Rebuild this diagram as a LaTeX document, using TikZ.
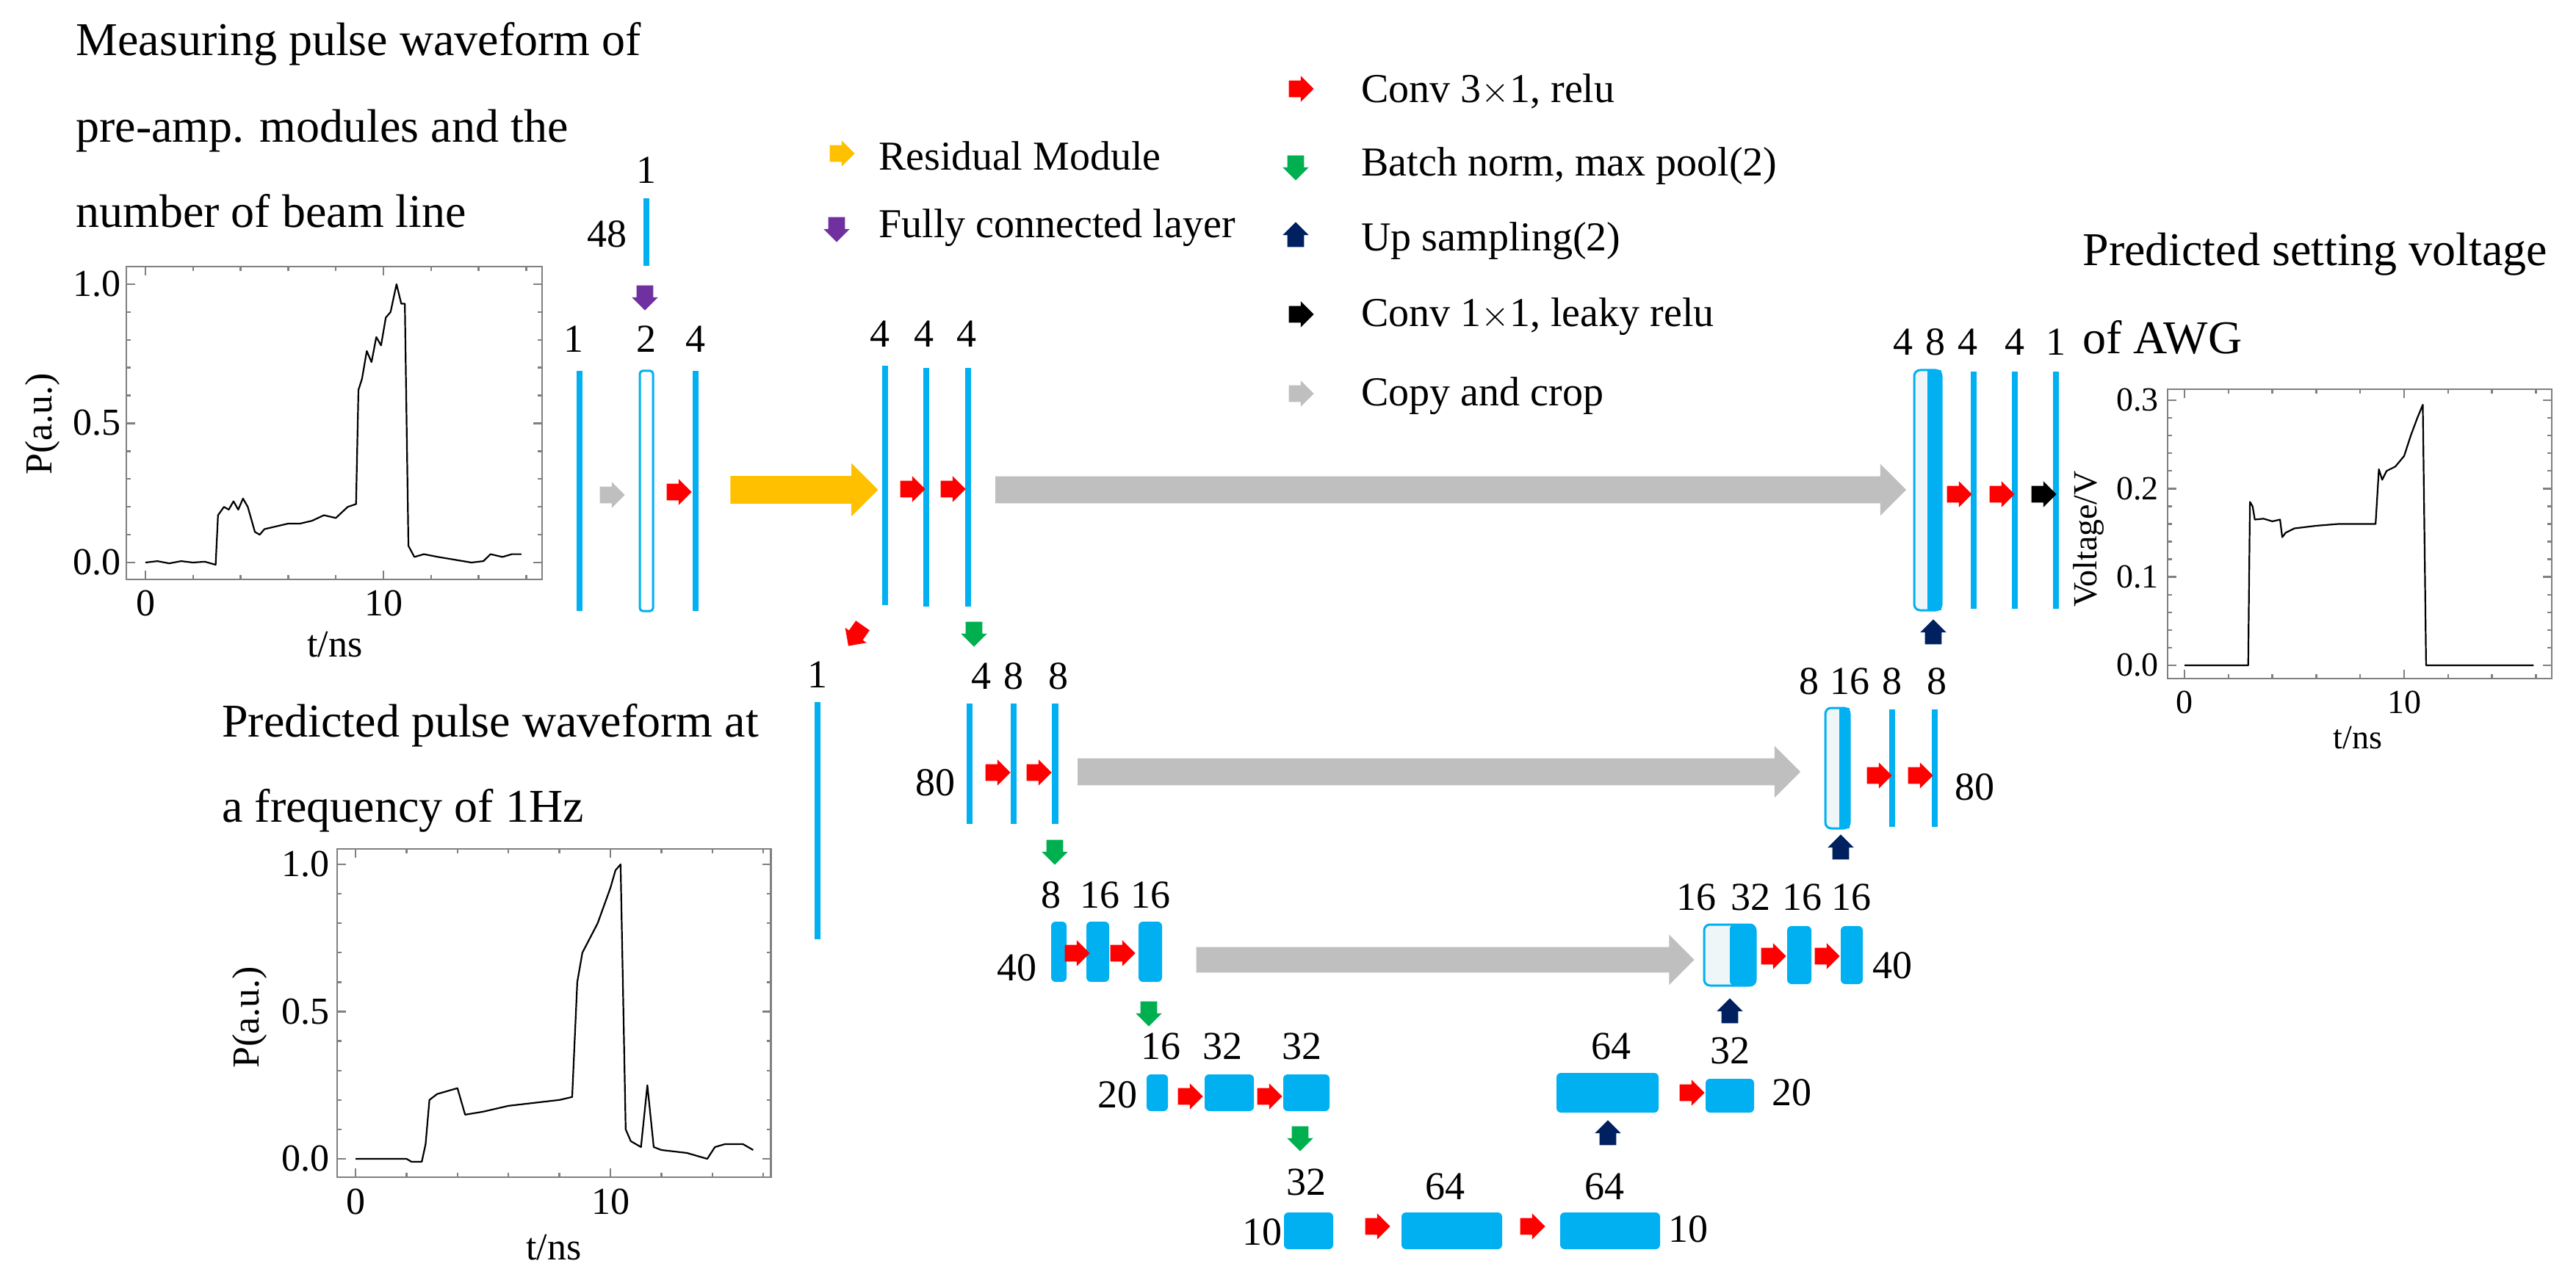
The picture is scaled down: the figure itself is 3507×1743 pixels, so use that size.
\documentclass[tikz,border=0pt]{standalone}
\usepackage{fontspec}
\setmainfont{Liberation Serif}
\usetikzlibrary{shapes.arrows}
\definecolor{cyb}{HTML}{00B0F0}
\definecolor{lfill}{HTML}{EEF6F8}
\definecolor{garr}{HTML}{BFBFBF}
\definecolor{yarr}{HTML}{FFC000}
\definecolor{parr}{HTML}{7030A0}
\definecolor{grarr}{HTML}{00B050}
\definecolor{narr}{HTML}{002060}
\definecolor{frm}{HTML}{808080}
\newcommand\lay[6]{\node[#1, minimum width={(#4-#3)*0.5pt}, minimum height={(#6-#5)*0.5pt}] (#2) at ({(#3+#4)/2},{(#5+#6)/2}) {};}
\tikzset{
  bar/.style={fill=cyb, draw=none, inner sep=0, outer sep=0},
  box/.style={fill=cyb, draw=none, inner sep=0, outer sep=0, rounded corners=3pt},
  hollow/.style={fill=white, draw=cyb, line width=1.5pt, inner sep=0, outer sep=0, rounded corners=2pt},
  hollowl/.style={fill=lfill, draw=cyb, line width=1.5pt, inner sep=0, outer sep=0, rounded corners=4pt},
  sarr/.style={single arrow, draw=none, inner xsep=0pt, inner ysep=5.5pt, outer sep=0, minimum height=17pt, single arrow head extend=3.2pt, single arrow head indent=0pt},
  ra/.style={sarr, fill=red},
  ka/.style={sarr, fill=black},
  ga/.style={sarr, fill=garr},
  ya/.style={sarr, fill=yarr},
  pa/.style={sarr, fill=parr, rotate=270},
  gda/.style={sarr, fill=grarr, rotate=270},
  nua/.style={sarr, fill=narr, rotate=90},
  big/.style={single arrow, draw=none, inner xsep=0pt, inner ysep=9pt, outer sep=0, single arrow head extend=8.5pt, single arrow head indent=0pt},
  num/.style={font=\fontsize{27}{30}\selectfont, inner sep=0},
  captxt/.style={font=\fontsize{32}{38}\selectfont, inner sep=0, anchor=base west},
  leg/.style={font=\fontsize{28}{32}\selectfont, inner sep=0, anchor=west},
  tk/.style={font=\fontsize{26}{30}\selectfont, inner sep=0},
  tks/.style={font=\fontsize{23}{26}\selectfont, inner sep=0},
  frame/.style={draw=frm, line width=1.2pt},
  curve/.style={black, line width=1.1pt, line join=round},
}
\begin{document}
\begin{tikzpicture}[x=0.5pt,y=-0.5pt]
\useasboundingbox (0,0) rectangle (3507,1743);
\fill[white] (0,0) rectangle (3507,1743);

% ---------- captions ----------
\node[captxt] (c1) at (103,76) {Measuring pulse waveform of};
\node[captxt] (c2) at (103,194) {pre-amp. modules and the};
\node[captxt] (c3) at (103,310) {number of beam line};
\node[captxt] (c4) at (302,1003) {Predicted pulse waveform at};
\node[captxt] (c5) at (302,1119) {a frequency of 1Hz};
\node[captxt] (c6) at (2835,362) {Predicted setting voltage};
\node[captxt] (c7) at (2835,482) {of AWG};

% ---------- legend ----------
\node[ya] (ly) at (1141,209) {}; \node[leg] (lyt) at (1196,212) {Residual Module};
\node[pa] (lp) at (1139,307) {}; \node[leg] (lpt) at (1196,310) {Fully connected layer};
\node[ra] (lr) at (1766,121) {}; \node[leg] (lrt) at (1853,124) {Conv 3$\times$1, relu};
\node[gda] (lg) at (1764,223) {}; \node[leg] (lgt) at (1853,226) {Batch norm, max pool(2)};
\node[nua] (ln) at (1764,325) {}; \node[leg] (lnt) at (1853,328) {Up sampling(2)};
\node[ka] (lk) at (1766,428) {}; \node[leg] (lkt) at (1853,431) {Conv 1$\times$1, leaky relu};
\node[ga] (lgr) at (1766,536) {}; \node[leg] (lgrt) at (1853,539) {Copy and crop};

% ---------- plot 1 ----------
\begin{scope}[shift={(198,766)}, x=16.2pt, y=189.5pt]
 \draw[frame] (-0.8,-0.061) rectangle (16.67,1.063);
 \foreach \t in {0,2,...,16} {\draw[frame] (\t,-0.061) -- ++(0,3pt); \draw[frame] (\t,1.063) -- ++(0,-3pt);}
 \foreach \t in {0,10} {\draw[frame] (\t,-0.061) -- ++(0,6pt); \draw[frame] (\t,1.063) -- ++(0,-6pt);}
 \foreach \p in {0,0.1,...,1.01} {\draw[frame] (-0.8,\p) -- ++(3pt,0); \draw[frame] (16.67,\p) -- ++(-3pt,0);}
 \foreach \p in {0,0.5,1} {\draw[frame] (-0.8,\p) -- ++(6pt,0); \draw[frame] (16.67,\p) -- ++(-6pt,0);}
 \draw[curve] plot coordinates {(0,0) (0.5,0.005) (1,-0.003) (1.5,0.005) (2,0) (2.5,0.003) (2.95,-0.008) (3.05,0.17) (3.3,0.2) (3.5,0.19) (3.7,0.22) (3.9,0.19) (4.1,0.23) (4.3,0.2) (4.6,0.11) (4.8,0.1) (5,0.12) (5.5,0.13) (6,0.14) (6.5,0.14) (7,0.15) (7.5,0.17) (8,0.16) (8.5,0.2) (8.85,0.21) (8.95,0.62) (9.1,0.66) (9.3,0.76) (9.5,0.72) (9.7,0.81) (9.9,0.78) (10.1,0.88) (10.3,0.9) (10.55,1.0) (10.75,0.93) (10.9,0.93) (11.05,0.06) (11.3,0.02) (11.7,0.03) (12.3,0.02) (13,0.01) (13.7,0.0) (14.2,0.005) (14.5,0.03) (15,0.02) (15.4,0.03) (15.8,0.03)};
\end{scope}
\node[tk,anchor=east] (p1y1) at (165,387) {1.0};
\node[tk,anchor=east] (p1y2) at (165,576) {0.5};
\node[tk,anchor=east] (p1y3) at (165,766) {0.0};
\node[tk] (p1x1) at (198,821) {0};
\node[tk] (p1x2) at (522,821) {10};
\node[tk] (p1xl) at (456,878) {t/ns};
\node[tk,rotate=90] (p1yl) at (58,577) {P(a.u.)};

% ---------- plot 2 ----------
\begin{scope}[shift={(484,1578)}, x=17.35pt, y=200.5pt]
 \draw[frame] (-0.72,-0.062) rectangle (16.3,1.052);
 \foreach \t in {0,2,...,16} {\draw[frame] (\t,-0.062) -- ++(0,3pt); \draw[frame] (\t,1.052) -- ++(0,-3pt);}
 \foreach \t in {0,10} {\draw[frame] (\t,-0.062) -- ++(0,6pt); \draw[frame] (\t,1.052) -- ++(0,-6pt);}
 \foreach \p in {0,0.1,...,1.01} {\draw[frame] (-0.72,\p) -- ++(3pt,0); \draw[frame] (16.3,\p) -- ++(-3pt,0);}
 \foreach \p in {0,0.5,1} {\draw[frame] (-0.72,\p) -- ++(6pt,0); \draw[frame] (16.3,\p) -- ++(-6pt,0);}
 \draw[curve] plot coordinates {(0,0) (2.0,0) (2.2,-0.01) (2.6,-0.01) (2.75,0.05) (2.9,0.2) (3.2,0.22) (4,0.24) (4.3,0.15) (5,0.16) (6,0.18) (7,0.19) (8,0.2) (8.5,0.21) (8.7,0.6) (8.9,0.7) (9.5,0.8) (10.0,0.92) (10.2,0.98) (10.4,1.0) (10.6,0.1) (10.8,0.06) (11.2,0.04) (11.45,0.25) (11.7,0.04) (12,0.03) (13,0.02) (13.8,0.0) (14.1,0.04) (14.5,0.05) (15.2,0.05) (15.6,0.03)};
\end{scope}
\node[tk,anchor=east] (p2y1) at (449,1177) {1.0};
\node[tk,anchor=east] (p2y2) at (449,1378) {0.5};
\node[tk,anchor=east] (p2y3) at (449,1578) {0.0};
\node[tk] (p2x1) at (484,1636) {0};
\node[tk] (p2x2) at (831,1636) {10};
\node[tk] (p2xl) at (754,1699) {t/ns};
\node[tk,rotate=90] (p2yl) at (340,1385) {P(a.u.)};

% ---------- plot 3 ----------
\begin{scope}[shift={(2974,906)}, x=14.95pt, y=601.5pt]
 \draw[frame] (-0.77,-0.015) rectangle (16.72,0.3125);
 \foreach \t in {0,2,...,16} {\draw[frame] (\t,-0.015) -- ++(0,3pt); \draw[frame] (\t,0.3125) -- ++(0,-3pt);}
 \foreach \t in {0,10} {\draw[frame] (\t,-0.015) -- ++(0,6pt); \draw[frame] (\t,0.3125) -- ++(0,-6pt);}
 \foreach \p in {0,0.02,...,0.301} {\draw[frame] (-0.77,\p) -- ++(3pt,0); \draw[frame] (16.72,\p) -- ++(-3pt,0);}
 \foreach \p in {0,0.1,0.2,0.3} {\draw[frame] (-0.77,\p) -- ++(6pt,0); \draw[frame] (16.72,\p) -- ++(-6pt,0);}
 \draw[curve] plot coordinates {(0,0) (2.9,0) (2.98,0.185) (3.1,0.18) (3.2,0.165) (3.6,0.166) (4.0,0.163) (4.35,0.165) (4.45,0.145) (4.6,0.15) (5,0.155) (6,0.158) (7,0.16) (8,0.16) (8.7,0.16) (8.85,0.222) (9.0,0.21) (9.2,0.22) (9.6,0.225) (10.0,0.237) (10.3,0.26) (10.6,0.28) (10.85,0.295) (11.0,0) (15.9,0)};
\end{scope}
\node[tks,anchor=east] (p3y1) at (2939,545) {0.3};
\node[tks,anchor=east] (p3y2) at (2939,666) {0.2};
\node[tks,anchor=east] (p3y3) at (2939,786) {0.1};
\node[tks,anchor=east] (p3y4) at (2939,906) {0.0};
\node[tks] (p3x1) at (2974,956) {0};
\node[tks] (p3x2) at (3273,956) {10};
\node[tks] (p3xl) at (3210,1005) {t/ns};
\node[tks,rotate=90] (p3yl) at (2843,734) {Voltage/V};

% ---------- input stage ----------
\lay{bar}{fc}{876}{884}{270}{362}
\node[num] (fcn1) at (880,232) {1};
\node[num] (fcn2) at (826,319) {48};
\node[pa] (fca) at (878,400) {};
\lay{bar}{in1}{785}{793}{505}{832}
\lay{hollow}{in2}{871}{889}{505}{832}
\lay{bar}{in3}{943}{951}{505}{832}
\node[num] (in1n) at (781,462) {1};
\node[num] (in2n) at (880,462) {2};
\node[num] (in3n) at (947,462) {4};
\node[ga] (ga1) at (828,674) {};
\node[ra] (ra1) at (919,670) {};
\node[big, fill=yarr, inner ysep=9.25pt, single arrow head extend=8.75pt, minimum height={201*0.5pt}] (yres) at (1085.5,667) {};

% ---------- level 1 (left) ----------
\lay{bar}{l1a}{1201}{1209}{498}{824}
\lay{bar}{l1b}{1257}{1265}{501}{826}
\lay{bar}{l1c}{1314}{1322}{501}{826}
\node[num] (l1an) at (1198,455) {4};
\node[num] (l1bn) at (1258,455) {4};
\node[num] (l1cn) at (1316,455) {4};
\node[ra] (ra2) at (1237,666) {};
\node[ra] (ra3) at (1292,666) {};
\node[big, fill=garr, minimum height={1240*0.5pt}] (cp1) at (1966,667) {};
\node[ra, rotate=235] (rad) at (1168,861) {};
\node[gda] (gd1) at (1326,858) {};

% long bar
\lay{bar}{lb}{1109}{1117}{956}{1279}
\node[num] (lbn) at (1113,919) {1};

% ---------- level 2 (80) ----------
\lay{bar}{l2a}{1316}{1324}{958}{1122}
\lay{bar}{l2b}{1376}{1384}{958}{1122}
\lay{bar}{l2c}{1432}{1441}{958}{1122}
\node[num] (l2an) at (1336,921) {4};
\node[num] (l2bn) at (1380,921) {8};
\node[num] (l2cn) at (1441,921) {8};
\node[num] (l2s) at (1273,1066) {80};
\node[ra] (ra4) at (1353,1052) {};
\node[ra] (ra5) at (1409,1052) {};
\node[big, fill=garr, minimum height={984*0.5pt}] (cp2) at (1950,1051) {};
\node[gda] (gd2) at (1436,1155) {};

% ---------- level 3 (40) ----------
\lay{box}{l3a}{1431}{1452}{1255}{1337}
\lay{box}{l3b}{1479}{1510}{1255}{1337}
\lay{box}{l3c}{1550}{1582}{1255}{1337}
\node[num] (l3an) at (1431,1219) {8};
\node[num] (l3bn) at (1497,1219) {16};
\node[num] (l3cn) at (1566,1219) {16};
\node[num] (l3s) at (1384,1318) {40};
\node[ra] (ra6) at (1461,1298) {};
\node[ra] (ra7) at (1523,1298) {};
\node[big, fill=garr, inner ysep=8.5pt, minimum height={678*0.5pt}] (cp3) at (1959,1307) {};
\node[gda] (gd3) at (1564,1375) {};

% ---------- level 4 (20) ----------
\lay{box}{l4a}{1561}{1590}{1463}{1513}
\lay{box}{l4b}{1640}{1707}{1463}{1513}
\lay{box}{l4c}{1747}{1810}{1463}{1513}
\node[num] (l4an) at (1580,1425) {16};
\node[num] (l4bn) at (1664,1425) {32};
\node[num] (l4cn) at (1772,1425) {32};
\node[num] (l4s) at (1521,1491) {20};
\node[ra] (ra8) at (1615,1493) {};
\node[ra] (ra9) at (1723,1493) {};
\node[gda] (gd4) at (1770,1545) {};

% ---------- bottom (10) ----------
\lay{box}{l5a}{1748}{1815}{1651}{1701}
\lay{box}{l5b}{1908}{2045}{1651}{1701}
\lay{box}{l5c}{2124}{2260}{1651}{1701}
\node[num] (l5an) at (1778,1610) {32};
\node[num] (l5bn) at (1967,1616) {64};
\node[num] (l5cn) at (2184,1616) {64};
\node[num] (l5s1) at (1718,1678) {10};
\node[num] (l5s2) at (2298,1674) {10};
\node[ra] (ra10) at (1870,1670) {};
\node[ra] (ra11) at (2081,1670) {};
\node[nua] (nu1) at (2189,1548) {};

% ---------- level 4 right ----------
\lay{box}{r4a}{2119}{2258}{1461}{1515}
\lay{box}{r4b}{2322}{2388}{1469}{1515}
\node[num] (r4an) at (2193,1425) {64};
\node[num] (r4bn) at (2355,1431) {32};
\node[num] (r4s) at (2439,1488) {20};
\node[ra] (ra12) at (2298,1488) {};
\node[nua] (nu2) at (2355,1382) {};

% ---------- level 3 right ----------
\lay{hollowl}{r3a}{2320}{2390}{1259}{1342}
\lay{box}{r3af}{2355}{2390}{1259}{1342}
\lay{box}{r3b}{2433}{2466}{1261}{1340}
\lay{box}{r3c}{2506}{2536}{1261}{1340}
\node[num] (r3an) at (2309,1222) {16};
\node[num] (r3bn) at (2383,1222) {32};
\node[num] (r3cn) at (2453,1222) {16};
\node[num] (r3dn) at (2520,1222) {16};
\node[num] (r3s) at (2576,1315) {40};
\node[ra] (ra13) at (2409,1302) {};
\node[ra] (ra14) at (2482,1302) {};
\node[nua] (nu3) at (2506,1159) {};

% ---------- level 2 right ----------
\lay{hollowl}{r2a}{2485}{2518}{964}{1128}
\lay{bar}{r2af}{2504}{2518}{964}{1128}
\lay{bar}{r2b}{2572}{2580}{966}{1126}
\lay{bar}{r2c}{2630}{2638}{966}{1126}
\node[num] (r2an) at (2463,928) {8};
\node[num] (r2bn) at (2518,928) {16};
\node[num] (r2cn) at (2576,928) {8};
\node[num] (r2dn) at (2637,928) {8};
\node[num] (r2s) at (2688,1072) {80};
\node[ra] (ra15) at (2553,1056) {};
\node[ra] (ra16) at (2609,1056) {};
\node[nua] (nu4) at (2632,866) {};

% ---------- level 1 right ----------
\lay{hollowl}{r1a}{2606}{2643}{504}{831}
\lay{bar}{r1af}{2624}{2643}{504}{831}
\lay{bar}{r1b}{2683}{2691}{506}{829}
\lay{bar}{r1c}{2739}{2747}{506}{829}
\lay{bar}{r1d}{2795}{2803}{506}{829}
\node[num] (r1an) at (2591,466) {4};
\node[num] (r1bn) at (2635,466) {8};
\node[num] (r1cn) at (2679,466) {4};
\node[num] (r1dn) at (2743,466) {4};
\node[num] (r1en) at (2799,466) {1};
\node[ra] (ra17) at (2662,673) {};
\node[ra] (ra18) at (2720,673) {};
\node[ka] (ka1) at (2777,673) {};
\end{tikzpicture}
\end{document}
